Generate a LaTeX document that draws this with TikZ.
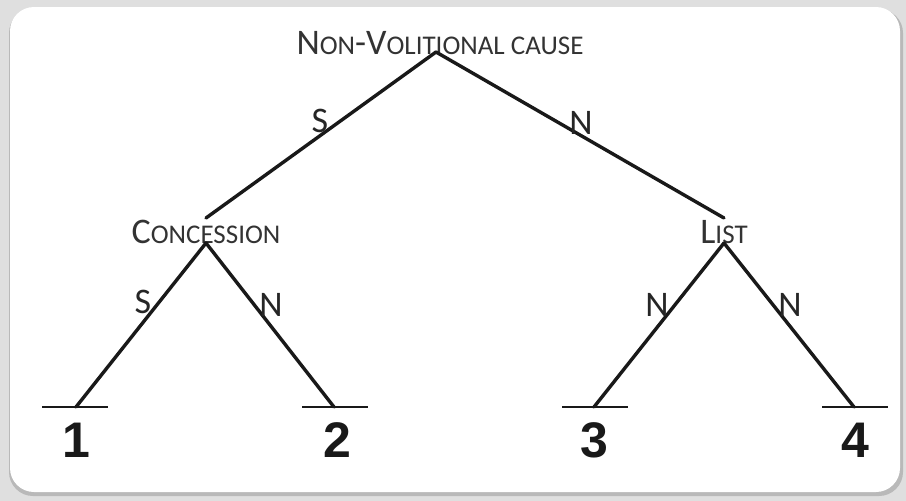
\documentclass[tikz,border=0pt]{standalone}
\usepackage{fontspec}
\setmainfont{Carlito}
\newfontfamily\numfont{Liberation Sans}
\usepackage{tikz}

% fake small caps: big initial, small rest
\newcommand{\bigsc}[2]{{\fontsize{36}{38}\selectfont #1}{\fontsize{27}{30}\selectfont #2}}

\tikzset{
  rel/.style={font=\fontsize{36}{38}\selectfont, text=black!80, inner sep=0pt},
  nuc/.style={font=\fontsize{36}{38}\selectfont, text=black!85, inner sep=0pt},
  leafnum/.style={font=\numfont\bfseries\fontsize{50}{52}\selectfont, text=black!90, inner sep=0pt},
  branch/.style={line width=3.4pt, line cap=round, black!90},
  bar/.style={line width=1.8pt, black!90}
}

\begin{document}
\begin{tikzpicture}[x=1pt,y=-1pt]
\useasboundingbox (0,0) rectangle (906,501);
\fill[gray!25] (0,0) rectangle (906,501);
\fill[gray!55] (9,9) [rounded corners=24pt] rectangle (903,496);
\fill[white, rounded corners=24pt] (10,7) rectangle (900,492);

% relation labels
\node[rel] (root) at (440,43) {\bigsc{N}{ON}-\bigsc{V}{OLITIONAL CAUSE}};
\node[rel] (conc) at (206,232) {\bigsc{C}{ONCESSION}};
\node[rel] (list) at (724,232) {\bigsc{L}{IST}};

% apex points
\coordinate (r) at (436,52);
\coordinate (cin) at (206,218);
\coordinate (cout) at (206,243);
\coordinate (lin) at (724,218);
\coordinate (lout) at (724,243);

% leaves
\coordinate (e1) at (76,407);
\coordinate (e2) at (334,407);
\coordinate (e3) at (594,407);
\coordinate (e4) at (854,407);
\draw[bar] (42,407) -- (108,407);
\draw[bar] (302,407) -- (368,407);
\draw[bar] (562,407) -- (628,407);
\draw[bar] (822,407) -- (888,407);
\node[leafnum] (n1) at (76,440) {1};
\node[leafnum] (n2) at (337,440) {2};
\node[leafnum] (n3) at (594,440) {3};
\node[leafnum] (n4) at (855,440) {4};

% branches
\draw[branch] (r) -- (cin);
\draw[branch] (r) -- (lin);
\draw[branch] (cout) -- (e1);
\draw[branch] (cout) -- (e2);
\draw[branch] (lout) -- (e3);
\draw[branch] (lout) -- (e4);

% nuclearity
\node[nuc] (s1) at (320,121) {S};
\node[nuc] (n5) at (581,123) {N};
\node[nuc] (s2) at (143,302) {S};
\node[nuc] (n6) at (271,305) {N};
\node[nuc] (n7) at (657,305) {N};
\node[nuc] (n8) at (790,305) {N};
\end{tikzpicture}
\end{document}
